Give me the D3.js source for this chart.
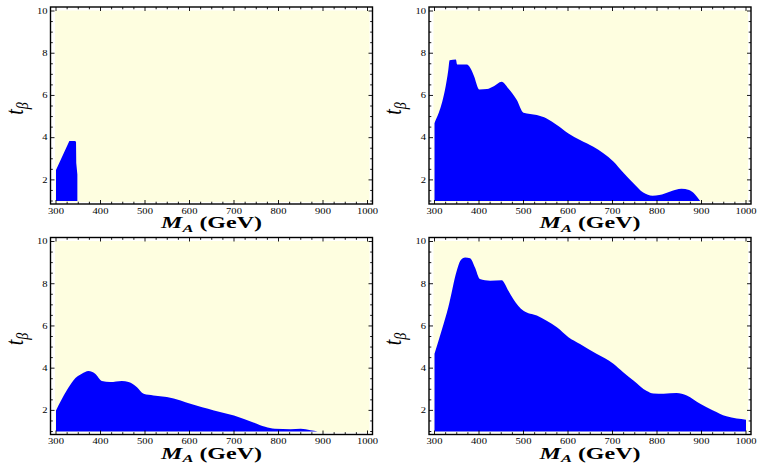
<!DOCTYPE html>
<html>
<head>
<meta charset="utf-8">
<script src="https://cdn.jsdelivr.net/npm/d3@7"></script>
<style>
  html, body { margin: 0; padding: 0; background: #ffffff; }
  svg { display: block; }
  text { font-family: "Liberation Serif", "DejaVu Serif", serif; fill: #000; }
</style>
</head>
<body>
<svg id="chart" width="759" height="464"></svg>
<script>
// Allowed region (blue) in the (M_A, t_beta) plane; upper edge of each region, lower edge is t_beta = 1.
const xTickValues = [300, 400, 500, 600, 700, 800, 900, 1000];
const yTickValues = [2, 4, 6, 8, 10];

const mA1 = [300, 330, 343, 345, 345.5, 348];
const tb1 = [2.47, 3.84, 3.84, 3.8, 2.8, 2.25];

const mA2 = [300, 331, 334, 348, 351, 372, 378, 388, 401, 418, 432, 451, 466, 485, 500, 530, 552, 575, 601, 627, 657, 702, 724, 747, 769, 790, 805, 830, 855, 872, 886, 897];
const tb2 = [4.68, 7.2, 7.67, 7.7, 7.46, 7.46, 7.38, 6.96, 6.28, 6.3, 6.42, 6.65, 6.33, 5.78, 5.18, 5.07, 4.91, 4.6, 4.2, 3.89, 3.57, 2.87, 2.35, 1.84, 1.4, 1.25, 1.28, 1.45, 1.58, 1.52, 1.3, 1.0];

const mA3 = [300, 324, 339, 358, 373, 388, 403, 422, 448, 463, 482, 497, 519, 549, 580, 602, 655, 700, 745, 770, 792, 827, 850, 872, 888];
const tb3 = [2.0, 2.94, 3.42, 3.73, 3.86, 3.73, 3.39, 3.34, 3.39, 3.34, 3.1, 2.79, 2.71, 2.63, 2.47, 2.31, 2.0, 1.76, 1.42, 1.22, 1.13, 1.11, 1.13, 1.06, 1.0];

const mA4 = [300, 316, 331, 350, 358, 369, 380, 391, 402, 425, 451, 466, 477, 500, 530, 552, 575, 601, 627, 664, 702, 724, 747, 777, 792, 815, 844, 867, 897, 926, 956, 979, 1000];
const tb4 = [4.68, 5.78, 6.88, 8.61, 9.09, 9.24, 9.21, 8.77, 8.22, 8.14, 8.17, 7.67, 7.28, 6.72, 6.49, 6.25, 5.94, 5.47, 5.15, 4.68, 4.21, 3.81, 3.42, 2.92, 2.8, 2.79, 2.82, 2.71, 2.31, 2.0, 1.72, 1.61, 1.56];

const regions = [
  { mA: mA1, tb: tb1, curve: d3.curveLinear },
  { mA: mA2, tb: tb2, curve: d3.curveMonotoneX },
  { mA: mA3, tb: tb3, curve: d3.curveMonotoneX },
  { mA: mA4, tb: tb4, curve: d3.curveMonotoneX }
];

const W = 322, H = 197;
const origins = [[50.5, 7], [429, 7], [50.5, 237.5], [429, 237.5]];
const sx = 1.32; // horizontal glyph stretch for tick labels

const svg = d3.select("#chart");

regions.forEach((reg, i) => {
  const [ox, oy] = origins[i];
  const g = svg.append("g").attr("transform", `translate(${ox},${oy})`);

  const x = d3.scaleLinear().domain([300, 1000]).range([5.5, 317]);
  const y = d3.scaleLinear().domain([1, 10]).range([194, 4]);

  // plot background
  g.append("rect")
    .attr("x", x(300) - 1).attr("y", y(10) - 0.5)
    .attr("width", x(1000) - x(300) + 3).attr("height", y(1) - y(10) + 1.5)
    .attr("fill", "#fefee0");

  // region
  const pts = reg.mA.map((m, k) => [m, reg.tb[k]]);
  const area = d3.area()
    .x(d => x(d[0]))
    .y0(y(1))
    .y1(d => y(d[1]))
    .curve(reg.curve);
  g.append("path").datum(pts).attr("d", area).attr("fill", "#0000ff");

  // ticks (inward, on all four sides)
  const xMinor = d3.range(300, 1000.1, 25);
  const yMinor = d3.range(1, 10.01, 0.5);
  const tk = g.append("g").attr("stroke", "#000").attr("stroke-width", 0.9);
  xMinor.forEach(v => {
    const len = (v % 100 === 0) ? 4 : 2.3;
    tk.append("line").attr("x1", x(v)).attr("x2", x(v)).attr("y1", H).attr("y2", H - len);
    tk.append("line").attr("x1", x(v)).attr("x2", x(v)).attr("y1", 0).attr("y2", len);
  });
  yMinor.forEach(v => {
    const len = (v % 2 === 0) ? 4 : 2.3;
    tk.append("line").attr("y1", y(v)).attr("y2", y(v)).attr("x1", 0).attr("x2", len);
    tk.append("line").attr("y1", y(v)).attr("y2", y(v)).attr("x1", W).attr("x2", W - len);
  });

  // frame
  g.append("rect").attr("x", 0).attr("y", 0).attr("width", W).attr("height", H)
    .attr("fill", "none").attr("stroke", "#000").attr("stroke-width", 1.4);

  // tick labels
  xTickValues.forEach(v => {
    g.append("text")
      .attr("transform", `translate(${x(v)},${H + 9.5}) scale(${sx},1)`)
      .attr("text-anchor", "middle")
      .attr("font-size", 8)
      .text(v);
  });
  yTickValues.forEach(v => {
    g.append("text")
      .attr("transform", `translate(-3,${y(v) + 2.8}) scale(${sx},1)`)
      .attr("text-anchor", "end")
      .attr("font-size", 8)
      .text(v);
  });

  // x axis title
  const xt = g.append("text")
    .attr("transform", `translate(${W / 2},${H + 24}) scale(1.5,1)`)
    .attr("text-anchor", "middle")
    .attr("font-size", 16)
    .attr("font-weight", "bold");
  xt.append("tspan").attr("font-style", "italic").text("M");
  xt.append("tspan").attr("font-style", "italic").attr("font-size", 11).attr("dy", 3.5).text("A");
  xt.append("tspan").attr("dy", -3.5).text(" (GeV)");

  // y axis title
  const yt = g.append("text")
    .attr("transform", `translate(-28,${H / 2 + 3}) rotate(-90) scale(1,1.25)`)
    .attr("text-anchor", "middle")
    .attr("font-size", 20)
    .attr("font-style", "italic");
  yt.append("tspan").text("t");
  yt.append("tspan").attr("font-size", 14).attr("dy", 4).text("β");
});
</script>
</body>
</html>
